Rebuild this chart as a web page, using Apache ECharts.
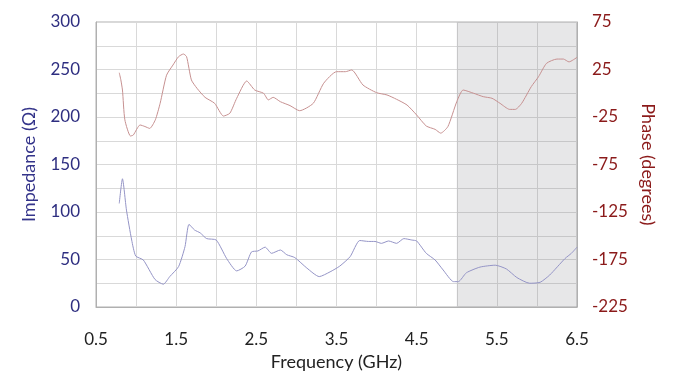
<!DOCTYPE html>
<html><head><meta charset="utf-8">
<script src="https://cdn.jsdelivr.net/npm/echarts@6/dist/echarts.min.js"></script>
<style>html,body{margin:0;padding:0;background:#fff}#c{width:673px;height:386px}</style>
</head><body><div id="c"></div>
<script>
const impFreq = [0.79,0.83,0.88,0.945,0.995,1.09,1.236,1.34,1.42,1.53,1.61,1.66,1.73,1.80,1.88,2.0,2.13,2.255,2.36,2.44,2.52,2.61,2.69,2.80,2.88,2.98,3.13,3.285,3.42,3.54,3.67,3.79,3.90,3.98,4.06,4.15,4.25,4.34,4.44,4.50,4.62,4.73,4.83,4.96,5.02,5.12,5.29,5.48,5.62,5.75,5.91,6.04,6.16,6.35,6.43,6.5];
const impedance = [109,135,102,70.5,53.7,49.5,29,24,32,42.5,63.5,87,81,78,72,70.5,51,38,43,58,59,63,56.5,60,55,52,41,32,37,43,53,70,69,69,67,69.5,67,72,70.5,69.5,56.5,49.5,39,26.7,26.7,36,42,44,40,31,25,26,33.7,51,56.5,63];
const phaseFreq = [0.79,0.81,0.83,0.86,0.93,0.965,1.05,1.11,1.17,1.24,1.30,1.38,1.46,1.53,1.59,1.63,1.69,1.76,1.86,1.98,2.09,2.17,2.255,2.38,2.48,2.59,2.65,2.71,2.80,2.92,3.04,3.21,3.34,3.50,3.61,3.69,3.83,4.0,4.13,4.25,4.38,4.50,4.62,4.73,4.80,4.89,5.0,5.08,5.21,5.33,5.44,5.54,5.66,5.73,5.81,5.93,6.02,6.12,6.25,6.33,6.40,6.5];
const phase = [21.6,14,3.4,-28,-45,-44,-33.4,-35,-37,-28,-10.6,19,29.7,38.5,41.3,38.5,14,5.2,-4.3,-10.6,-24,-21,-5.3,12.9,3.4,0,-7,-4.3,-8.9,-13,-18.4,-10.6,10.5,22.7,22.7,24.5,8.7,0.6,-1.8,-6.4,-12.4,-22.9,-34.5,-38,-42,-35,-8.9,3.4,0,-3.6,-5.3,-10.6,-17,-17,-10.6,7,17.4,31.5,36,36,33,37.8];
const shadeRange = [5.0, 6.5];

const FONT = 'Lato';
const chart = echarts.init(document.getElementById('c'));
chart.setOption({
  animation: false,
  grid: {left: 96, right: 96, top: 22, bottom: 79, show: true, borderColor: '#b0b0b0', borderWidth: 1},
  xAxis: {
    type: 'value', min: 0.5, max: 6.5, interval: 0.5,
    name: 'Frequency (GHz)', nameLocation: 'middle', nameGap: 44,
    nameTextStyle: {color: '#222', fontFamily: FONT, fontSize: 18},
    axisLine: {show: true, lineStyle: {color: '#b0b0b0'}},
    axisTick: {show: false},
    splitLine: {show: true, lineStyle: {color: '#d9d9d9'}},
    axisLabel: {color: '#222', fontFamily: FONT, fontSize: 17, margin: 24,
      formatter: v => (Math.round(v * 2) % 2 === 1) ? v.toFixed(1) : ''}
  },
  yAxis: [{
    type: 'value', min: 0, max: 300, interval: 25, position: 'left',
    name: 'Impedance (Ω)', nameLocation: 'middle', nameGap: 58, nameRotate: 90,
    nameTextStyle: {color: '#34348a', fontFamily: FONT, fontSize: 18},
    axisLine: {show: true, lineStyle: {color: '#b0b0b0'}},
    axisTick: {show: false},
    splitLine: {show: true, lineStyle: {color: '#d9d9d9'}},
    axisLabel: {color: '#2e2e80', fontFamily: FONT, fontSize: 17, margin: 16,
      formatter: v => (v % 50 === 0) ? String(v) : ''}
  }, {
    type: 'value', min: -225, max: 75, interval: 25, position: 'right',
    name: 'Phase (degrees)', nameLocation: 'middle', nameGap: 60, nameRotate: -90,
    nameTextStyle: {color: '#8b1a1a', fontFamily: FONT, fontSize: 18},
    axisLine: {show: true, lineStyle: {color: '#b0b0b0'}},
    axisTick: {show: false},
    splitLine: {show: false},
    axisLabel: {color: '#8b1a1a', fontFamily: FONT, fontSize: 17, margin: 15,
      formatter: v => ((v + 225) % 50 === 0) ? String(v) : ''}
  }],
  series: [{
    type: 'line', yAxisIndex: 0, smooth: 0.2, symbol: 'none',
    lineStyle: {color: '#9494c6', width: 1},
    data: impFreq.map((f, i) => [f, impedance[i]]),
    markArea: {silent: true, itemStyle: {color: 'rgba(110,110,120,0.17)'},
      data: [[{xAxis: shadeRange[0]}, {xAxis: shadeRange[1]}]]}
  }, {
    type: 'line', yAxisIndex: 1, smooth: 0.2, symbol: 'none',
    lineStyle: {color: '#c69090', width: 1},
    data: phaseFreq.map((f, i) => [f, phase[i]])
  }]
});
</script></body></html>
